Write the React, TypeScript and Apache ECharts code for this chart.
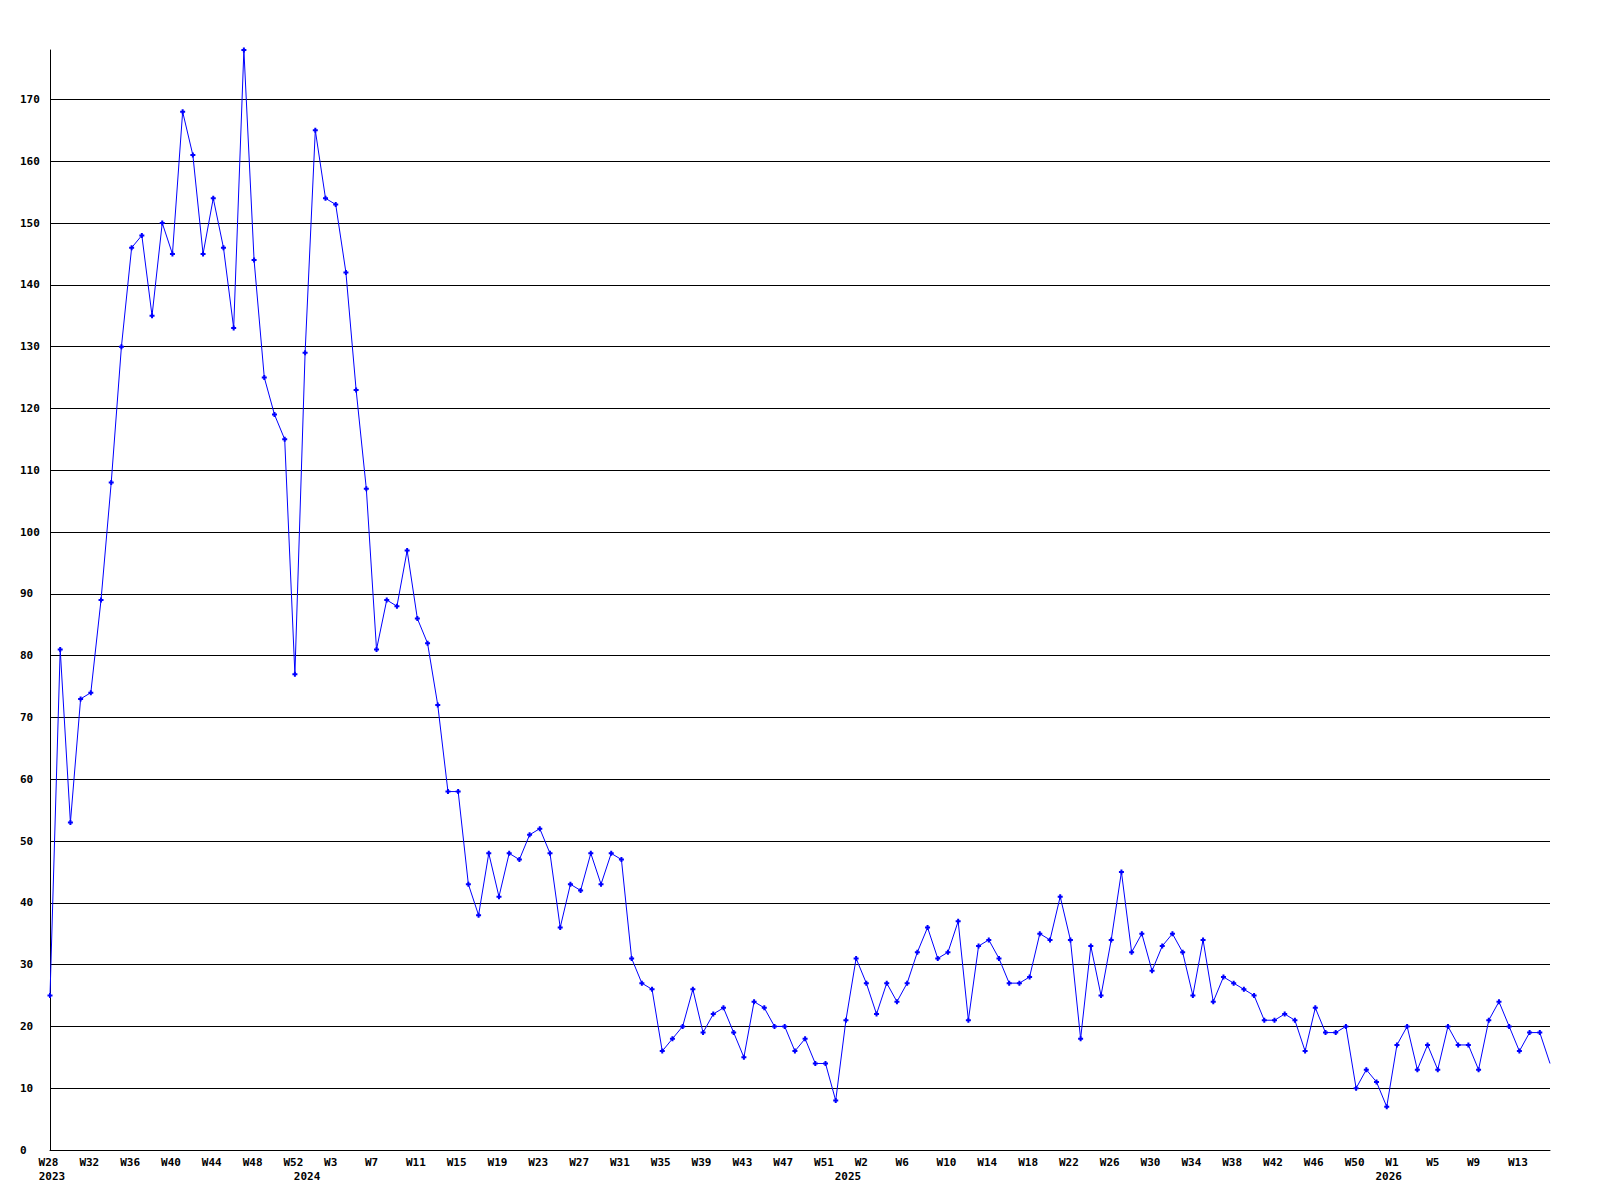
import React, { useEffect, useRef } from "react";
import * as echarts from "echarts";

// Weekly counts, 2023 W28 .. 2026 W16
const years = [2023, 2024, 2025, 2026];
const firstWeek = [28, 0, 0, 0];

const counts2023 = [25, 81, 53, 73, 74, 89, 108, 130, 146, 148, 135, 150, 145, 168, 161, 145, 154, 146, 133, 178, 144, 125, 119, 115, 77];
const counts2024 = [
  129, 165, 154, 153, 142, 123, 107, 81, 89, 88, 97, 86, 82, 72, 58, 58,
  43, 38, 48, 41, 48, 47, 51, 52, 48, 36, 43, 42, 48, 43, 48, 47, 31, 27, 26, 16, 18, 20, 26, 19, 22, 23,
  19, 15, 24, 23, 20, 20, 16, 18, 14, 14, 8,
];
const counts2025 = [
  21, 31, 27, 22, 27, 24, 27, 32, 36, 31, 32, 37, 21, 33, 34, 31,
  27, 27, 28, 35, 34, 41, 34, 18, 33, 25, 34, 45, 32, 35, 29, 33, 35, 32, 25, 34, 24, 28, 27, 26, 25, 21, 21,
  22, 21, 16, 23, 19, 19, 20, 10, 13, 11,
];
const counts2026 = [7, 17, 20, 13, 17, 13, 20, 17, 17, 13, 21, 24, 20, 16, 19, 19, 14];

const countsByYear = [counts2023, counts2024, counts2025, counts2026];

export default function App() {
  const ref = useRef<HTMLDivElement>(null);

  useEffect(() => {
    document.body.style.margin = "0";
    const categories: string[] = [];
    const weekLabels: string[] = [];
    const yearLabels: string[] = [];
    const values: number[] = [];
    years.forEach((y, yi) => {
      countsByYear[yi].forEach((v, k) => {
        const w = firstWeek[yi] + k;
        categories.push(`${y}-W${w}`);
        weekLabels.push(`W${w}`);
        yearLabels.push(k === 0 ? String(y) : "");
        values.push(v);
      });
    });
    // last point sits on the plot edge: its marker is clipped in the original
    const seriesData = values.map((v, i) =>
      i === values.length - 1 ? { value: v, symbol: "none" } : v
    );

    const chart = echarts.init(ref.current as HTMLDivElement, null, { renderer: "svg" });
    const font = {
      fontFamily: "'DejaVu Sans Mono', monospace",
      fontWeight: "bold" as const,
      fontSize: 11,
      color: "#000",
    };
    chart.setOption({
      animation: false,
      backgroundColor: "#ffffff",
      grid: { left: 50, right: 50, top: 50, bottom: 50, containLabel: false },
      xAxis: [
        {
          type: "category",
          data: categories,
          boundaryGap: false,
          axisLine: { show: true, lineStyle: { color: "#000", width: 1 } },
          axisTick: { show: false },
          splitLine: { show: false },
          axisLabel: {
            ...font,
            margin: 7,
            interval: (i: number) => i % 4 === 0,
            formatter: (_v: string, i: number) => {
              const t = weekLabels[i];
              return t.length >= 3 ? `{w3|${t}}` : `{w2|${t}}`;
            },
            rich: {
              w3: { ...font, padding: [0, 3, 0, 0] },
              w2: { ...font, padding: [0, 10, 0, 0] },
            },
          },
        },
        {
          type: "category",
          data: categories,
          boundaryGap: false,
          position: "bottom",
          axisLine: { show: false },
          axisTick: { show: false },
          splitLine: { show: false },
          axisLabel: {
            ...font,
            margin: 21,
            interval: (i: number) => yearLabels[i] !== "",
            formatter: (_v: string, i: number) => `{y|${yearLabels[i]}}`,
            rich: {
              y: { ...font, padding: [0, 0, 0, 4] },
            },
          },
        },
      ],
      yAxis: {
        type: "value",
        min: 0,
        max: "dataMax",
        interval: 10,
        axisLine: { show: true, lineStyle: { color: "#000", width: 1 } },
        axisTick: { show: false },
        splitLine: { show: true, showMaxLine: false, lineStyle: { color: "#000", width: 1 } },
        axisLabel: {
          ...font,
          align: "left",
          margin: 30,
          showMaxLabel: false,
        },
      },
      series: [
        {
          type: "line",
          xAxisIndex: 0,
          data: seriesData,
          symbol: "path://M1.5,0H3.5V1.5H5V3.5H3.5V5H1.5V3.5H0V1.5H1.5Z",
          symbolSize: 5,
          showAllSymbol: true,
          itemStyle: { color: "#0000ff" },
          lineStyle: { color: "#0000ff", width: 1 },
        },
      ],
    });
    return () => chart.dispose();
  }, []);

  return <div ref={ref} style={{ width: 1600, height: 1200 }} />;
}
